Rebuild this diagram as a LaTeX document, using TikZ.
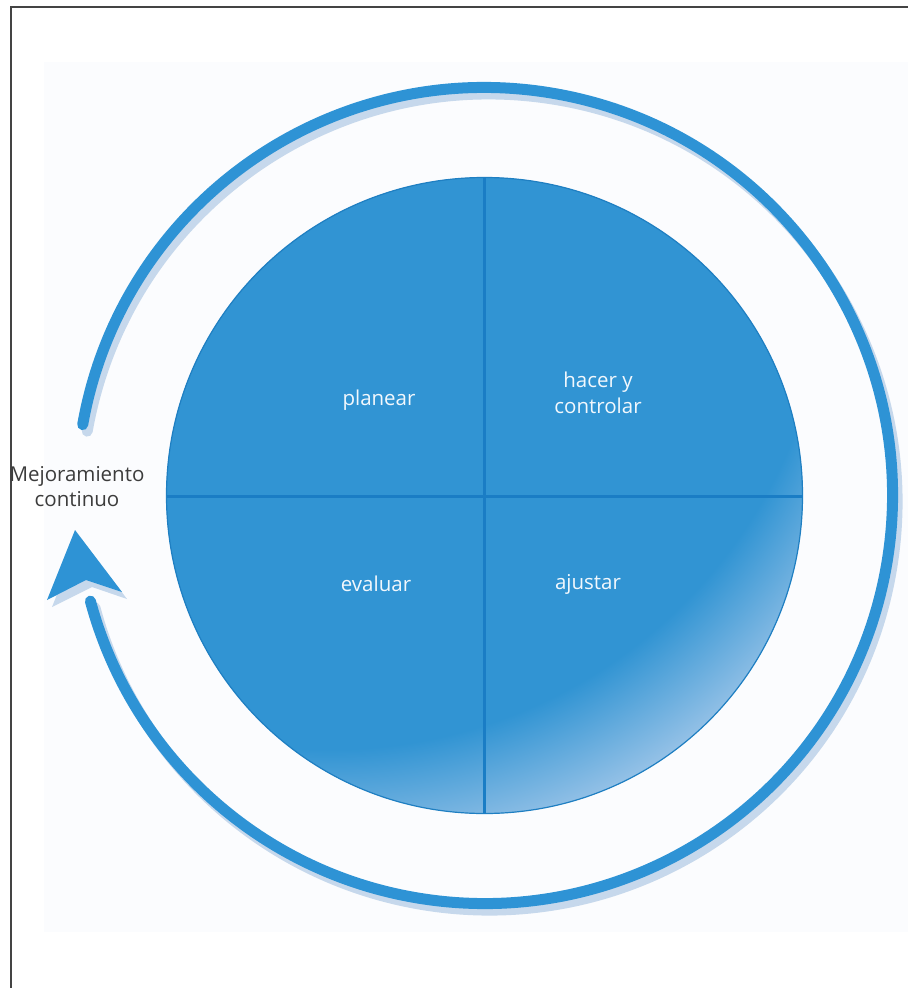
\documentclass[tikz,border=0pt]{standalone}
\usepackage{fontspec}
\setmainfont{Open Sans}
\usetikzlibrary{calc}
\definecolor{diskblue}{HTML}{3194D3}
\definecolor{disklight}{HTML}{92C0E6}
\definecolor{diskedge}{HTML}{1F7FC2}
\definecolor{divblue}{HTML}{1A7DC5}
\definecolor{arcblue}{HTML}{2E93D5}
\definecolor{shadowblue}{HTML}{C6D8EC}
\definecolor{bgtint}{HTML}{FBFCFE}
\definecolor{labelgray}{HTML}{3C3C3C}
\definecolor{textwhite}{HTML}{F2F8FD}
\definecolor{framegray}{HTML}{444444}
\pgfdeclareradialshading{diskglow}{\pgfpoint{0bp}{0bp}}{color(0bp)=(diskblue); color(15.6bp)=(diskblue); color(18.9bp)=(disklight); color(50bp)=(disklight)}
\tikzset{
  inlabel/.style={text=textwhite, font=\fontsize{20.5}{26}\selectfont, align=center, inner sep=0pt},
  outlabel/.style={text=labelgray, font=\fontsize{20.5}{25}\selectfont, align=center, inner sep=0pt},
  cyclearc/.style={arcblue, line width=11, line cap=round},
  cycleshadow/.style={shadowblue, line width=11, line cap=round},
  divider/.style={divblue, line width=3}
}
\begin{document}
\begin{tikzpicture}[x=1pt,y=-1pt]
\useasboundingbox (0,0) rectangle (908,988);
\fill[bgtint] (44,62) rectangle (908,932);
\draw[framegray, line width=1.6] (11,988) -- (11,7) -- (908,7);
\coordinate (c) at (484.5,495.5);
\coordinate (cs) at (489,502);
% shadow of the cycle arrow
\draw[cycleshadow] (cs) ++(-170:408) arc[start angle=-170, end angle=165, radius=408];
\fill[shadowblue] (80,537) -- (127,599) -- (92,587) -- (52,607) -- cycle;
% cycle arrow
\draw[cyclearc] (c) ++(-170:408) arc[start angle=-170, end angle=165, radius=408];
\fill[arcblue] (75,530) -- (122,592) -- (86,580) -- (47,600) -- cycle;
% disc
\fill[diskblue] (c) circle (318);
\begin{scope}
  \clip (c) circle (318);
  \shade[shading=diskglow] (330,250) circle (800);
\end{scope}
\draw[diskedge, line width=1.2] (c) circle (318);
\coordinate (top) at (484.5,177.5);
\coordinate (bot) at (484.5,813.5);
\coordinate (lft) at (166.5,496.5);
\coordinate (rgt) at (802.5,496.5);
\draw[divider] (top) -- (bot);
\draw[divider] (lft) -- (rgt);
% labels
\node[inlabel] (plan) at (379,400) {planear};
\node[inlabel] (hacer) at (598,393) {hacer y\\controlar};
\node[inlabel] (eval) at (376,584) {evaluar};
\node[inlabel] (ajus) at (588,584) {ajustar};
\node[outlabel] (mej) at (77,487) {Mejoramiento\\continuo};
\end{tikzpicture}
\end{document}
